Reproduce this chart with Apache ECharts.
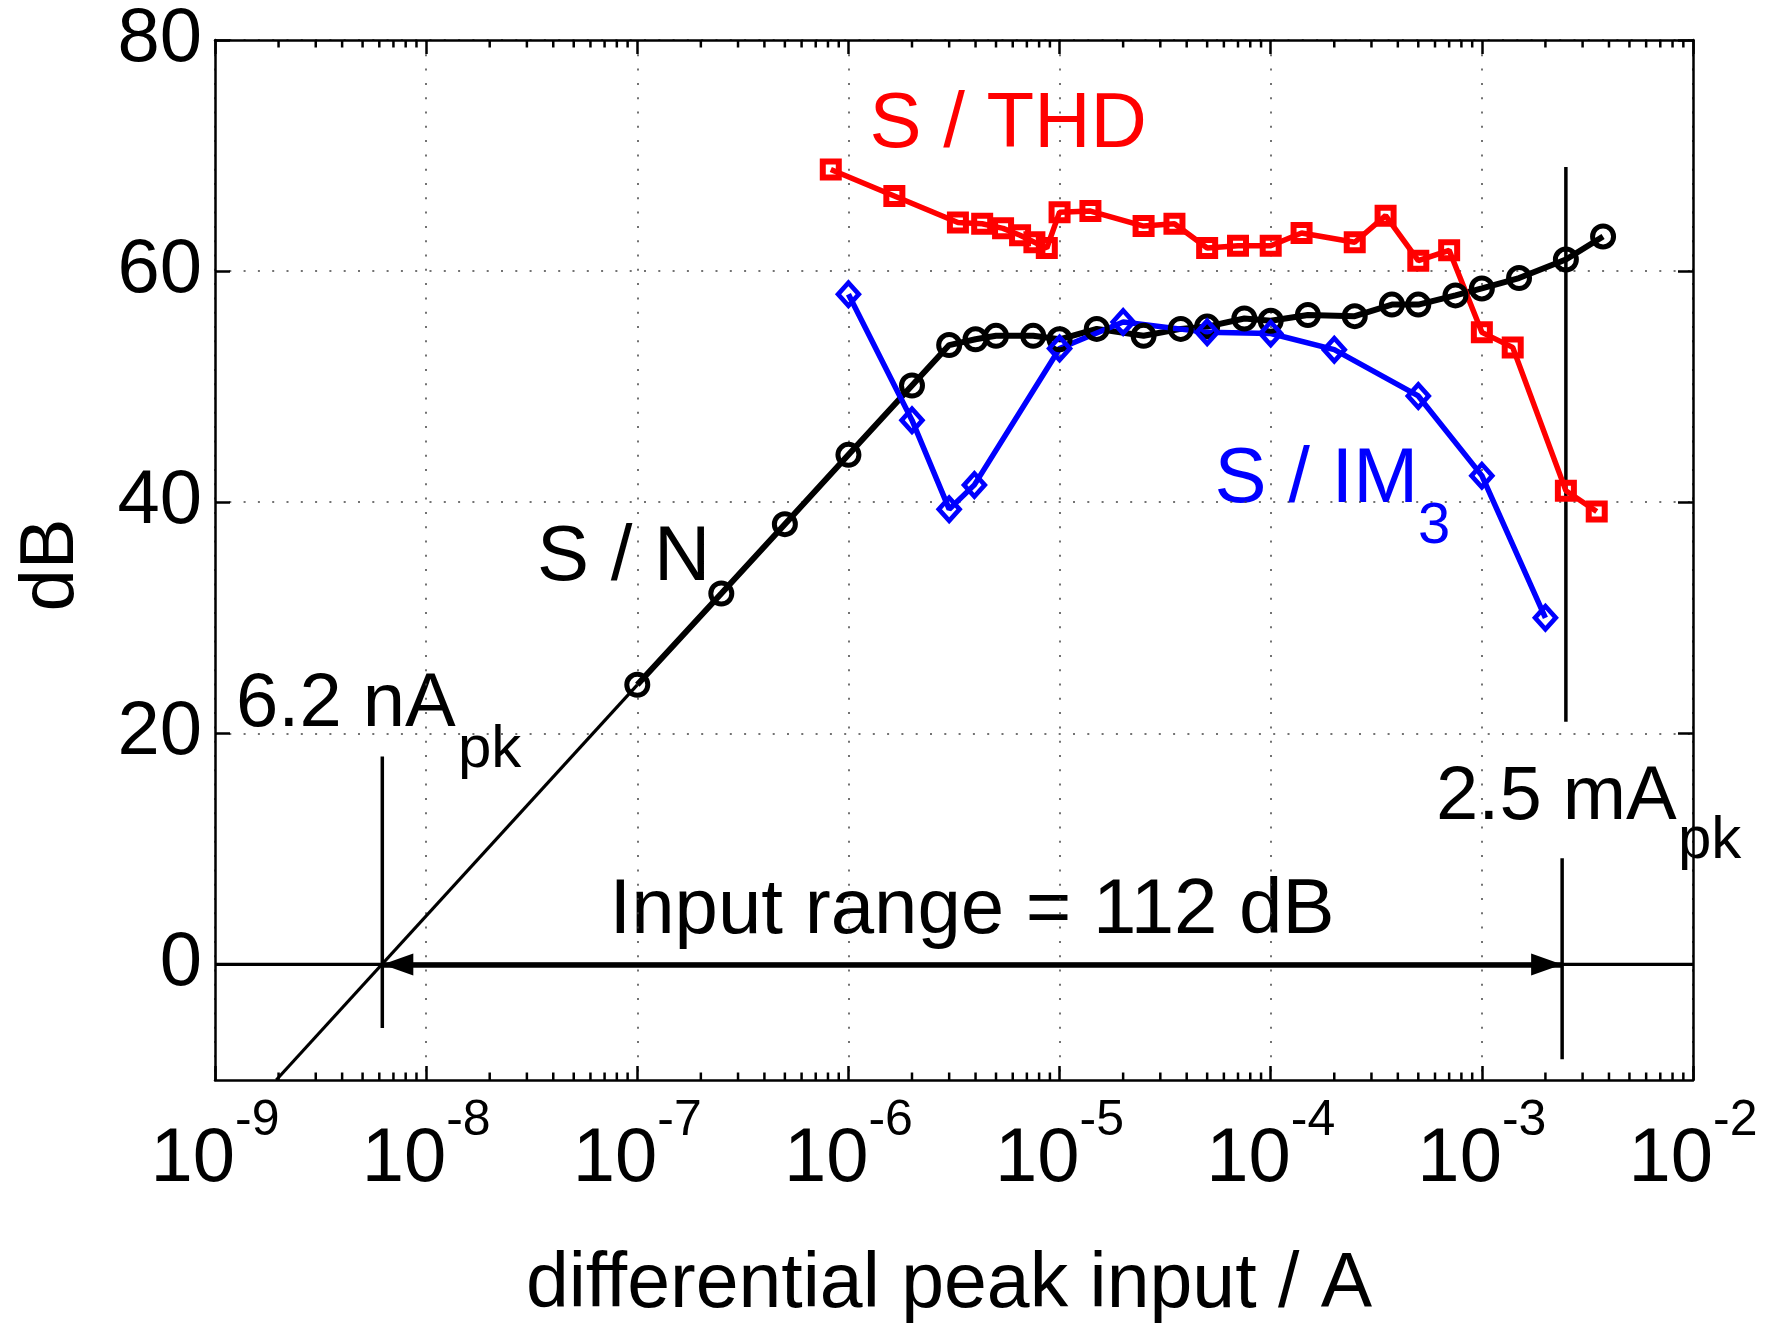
<!DOCTYPE html>
<html><head><meta charset="utf-8">
<script src="https://cdn.jsdelivr.net/npm/echarts@6/dist/echarts.min.js"></script>
<style>html,body{margin:0;padding:0;background:#fff}#c{width:1771px;height:1326px}</style>
</head><body><div id="c"></div>
<script>
// ---- data ----
const snX = [1e-7, 2.5e-7, 5e-7, 1e-6, 2e-6, 3e-6, 4e-6, 5e-6, 7.5e-6, 1e-5, 1.5e-5, 2.5e-5, 3.75e-5, 5e-5, 7.5e-5, 1e-4, 1.5e-4, 2.5e-4, 3.75e-4, 5e-4, 7.5e-4, 1e-3, 1.5e-3, 2.5e-3, 3.75e-3];
const snY = [24.2, 32.1, 38.1, 44.1, 50.1, 53.6, 54.1, 54.4, 54.4, 54.1, 55.0, 54.4, 55.0, 55.2, 55.9, 55.7, 56.2, 56.1, 57.1, 57.1, 57.9, 58.5, 59.4, 61.0, 63.0];
const thdX = [8.25e-7, 1.65e-6, 3.3e-6, 4.3e-6, 5.4e-6, 6.5e-6, 7.6e-6, 8.7e-6, 1e-5, 1.4e-5, 2.5e-5, 3.5e-5, 5e-5, 7e-5, 1e-4, 1.4e-4, 2.5e-4, 3.5e-4, 5e-4, 7e-4, 1e-3, 1.4e-3, 2.5e-3, 3.5e-3];
const thdY = [68.8, 66.5, 64.2, 64.1, 63.7, 63.1, 62.5, 62.0, 65.1, 65.2, 63.9, 64.1, 62.0, 62.2, 62.2, 63.3, 62.5, 64.8, 60.9, 61.8, 54.7, 53.4, 41.0, 39.2];
const imX = [1e-6, 2e-6, 3e-6, 3.95e-6, 1e-5, 2e-5, 5e-5, 1e-4, 2e-4, 5e-4, 1e-3, 2e-3];
const imY = [58.0, 47.1, 39.4, 41.5, 53.3, 55.6, 54.7, 54.6, 53.2, 49.2, 42.3, 30.0];
// extrapolated S/N line (thin)
const extX = [1.95e-9, 1e-7];
const extY = [-10, 24.2];
// annotation lines
const zeroX = [1e-9, 1e-2];
const rangeX = [6.2e-9, 2.4e-3];
const vLow = {x: 6.2e-9, y: [-5.5, 18]};
const vHighTop = {x: 2.5e-3, y: [21, 69]};
const vHighBot = {x: 2.4e-3, y: [-8.2, 9.2]};
// axes
const xMin = 1e-9, xMax = 1e-2;
const yMin = -10, yMax = 80;
const yTicks = [0, 20, 40, 60, 80];
const decadeExp = [-9, -8, -7, -6, -5, -4, -3];
const minorMult = [2, 3, 4, 5, 6, 7, 8, 9];

const FONT = '"Liberation Sans", Arial, Helvetica, sans-serif';
const zip = (a, b) => a.map((v, i) => [v, b[i]]);
const minorTicks = [];
decadeExp.forEach(e => minorMult.forEach(m => minorTicks.push([m * Math.pow(10, e), yMin])));

const dotted = {color: '#444', width: 1.5, type: [2, 12.3]};
const axisLineStyle = {color: '#000', width: 2.5};
const tickStyle = {color: '#000', width: 2.5};

// hollow marker outlines (ring shapes, opposite winding for the hole)
const ringCircle = 'path://M0,13A13,13 0 1,0 26,13A13,13 0 1,0 0,13Z M5,13A8,8 0 1,1 21,13A8,8 0 1,1 5,13Z';
const ringSquare = 'path://M0,0L22,0L22,22L0,22Z M6,6L6,16L16,16L16,6Z';
const ringDiamond = 'path://M13.5,0L27,15L13.5,30L0,15Z M13.5,7L6.3,15L13.5,23L20.7,15Z';

function txt(x, y, text, fill, size, align) {
  const a = align || 'left';
  return {
    type: 'text', x: x, y: y, silent: true,
    style: {text: text, fill: fill, fontSize: size, fontFamily: FONT,
      align: a, verticalAlign: 'middle', textAlign: a, textVerticalAlign: 'middle'}
  };
}

const arrowPath = 'path://M0,0L1,3L-1,3Z';
const arrowEnd = v => ({coord: [v, 0], symbol: arrowPath, symbolSize: [22, 31], symbolOffset: [0, 15.5], symbolKeepAspect: false});

const chart = echarts.init(document.getElementById('c'), null, {renderer: 'canvas'});
chart.setOption({
  animation: false,
  backgroundColor: '#fff',
  grid: {left: 215, top: 40, width: 1478, height: 1040, containLabel: false},
  xAxis: [{
    type: 'log', logBase: 10, min: xMin, max: xMax, position: 'bottom',
    axisLine: {onZero: false, lineStyle: axisLineStyle},
    axisTick: {inside: true, length: 14, lineStyle: tickStyle},
    axisLabel: {
      margin: 16.5, color: '#000',
      formatter: v => '{b|10}{s|' + Math.round(Math.log10(v)) + '}',
      rich: {
        b: {fontSize: 76, lineHeight: 102, verticalAlign: 'bottom', fontFamily: FONT, color: '#000'},
        s: {fontSize: 50, lineHeight: 54, verticalAlign: 'top', fontFamily: FONT, color: '#000'}
      }
    },
    splitLine: {show: true, lineStyle: dotted}
  }, {
    type: 'log', logBase: 10, min: xMin, max: xMax, position: 'top',
    axisLine: {onZero: false, lineStyle: axisLineStyle},
    axisTick: {inside: true, length: 14, lineStyle: tickStyle},
    axisLabel: {show: false}, splitLine: {show: false}
  }],
  yAxis: [{
    type: 'value', min: yMin, max: yMax, position: 'left',
    axisLine: {show: true, onZero: false, lineStyle: axisLineStyle},
    axisTick: {show: true, inside: true, length: 15, customValues: yTicks, lineStyle: tickStyle},
    axisLabel: {customValues: yTicks, fontSize: 76, fontFamily: FONT, color: '#000', margin: 13},
    splitLine: {show: true, lineStyle: dotted}
  }, {
    type: 'value', min: yMin, max: yMax, position: 'right',
    axisLine: {show: true, onZero: false, lineStyle: axisLineStyle},
    axisTick: {show: true, inside: true, length: 15, customValues: yTicks, lineStyle: tickStyle},
    axisLabel: {show: false}, splitLine: {show: false}
  }],
  graphic: [
    txt(869.5, 125, 'S / THD', '#ff0000', 78),
    txt(537, 558, 'S / N', '#000', 78),
    txt(1214.5, 480.5, 'S / IM', '#0000ff', 78),
    txt(1418, 527, '3', '#0000ff', 58),
    txt(236, 705.5, '6.2 nA', '#000', 76),
    txt(458, 750, 'pk', '#000', 60),
    txt(1436, 798.5, '2.5 mA', '#000', 76),
    txt(1678, 841, 'pk', '#000', 60),
    txt(609.5, 911.5, 'Input range = 112 dB', '#000', 78),
    txt(949, 1286, 'differential peak input / A', '#000', 77, 'center'),
    Object.assign(txt(52, 565, 'dB', '#000', 76, 'center'), {rotation: Math.PI / 2})
  ],
  series: [
    {
      type: 'custom', name: 'minorTicks', data: minorTicks, silent: true, clip: false,
      renderItem: (params, api) => {
        const v = api.value(0);
        const pb = api.coord([v, yMin]);
        const pt = api.coord([v, yMax]);
        const st = {stroke: '#000', lineWidth: 2.5};
        return {type: 'group', children: [
          {type: 'line', shape: {x1: pb[0], y1: pb[1], x2: pb[0], y2: pb[1] - 7.5}, style: st},
          {type: 'line', shape: {x1: pt[0], y1: pt[1], x2: pt[0], y2: pt[1] + 7.5}, style: st}
        ]};
      }
    },
    {
      type: 'line', name: 'zero', data: zeroX.map(x => [x, 0]), symbol: 'none', silent: true,
      lineStyle: {color: '#000', width: 3.2},
      markLine: {
        silent: true, animation: false,
        label: {show: false},
        lineStyle: {color: '#000', width: 5.5, type: 'solid'},
        itemStyle: {color: '#000'},
        emphasis: {disabled: true},
        data: [[arrowEnd(rangeX[0]), arrowEnd(rangeX[1])]]
      }
    },
    {type: 'line', name: 'ext', data: zip(extX, extY), symbol: 'none', silent: true, lineStyle: {color: '#000', width: 3.2}},
    {type: 'line', name: 'v1', data: vLow.y.map(y => [vLow.x, y]), symbol: 'none', silent: true, lineStyle: {color: '#000', width: 3.5}},
    {type: 'line', name: 'v2', data: vHighTop.y.map(y => [vHighTop.x, y]), symbol: 'none', silent: true, lineStyle: {color: '#000', width: 3.5}},
    {type: 'line', name: 'v3', data: vHighBot.y.map(y => [vHighBot.x, y]), symbol: 'none', silent: true, lineStyle: {color: '#000', width: 3.5}},
    {
      type: 'line', name: 'S / N', data: zip(snX, snY), symbol: ringCircle, symbolSize: 26, symbolKeepAspect: true, showSymbol: true,
      lineStyle: {color: '#000', width: 6},
      itemStyle: {color: '#000', borderWidth: 0}
    },
    {
      type: 'line', name: 'S / THD', data: zip(thdX, thdY), symbol: ringSquare, symbolSize: 22, showSymbol: true,
      lineStyle: {color: '#ff0000', width: 5.5},
      itemStyle: {color: '#ff0000', borderWidth: 0}
    },
    {
      type: 'line', name: 'S / IM3', data: zip(imX, imY), symbol: ringDiamond, symbolSize: [27, 30], showSymbol: true,
      lineStyle: {color: '#0000ff', width: 5.5},
      itemStyle: {color: '#0000ff', borderWidth: 0}
    }
  ]
});
</script>
</body></html>
